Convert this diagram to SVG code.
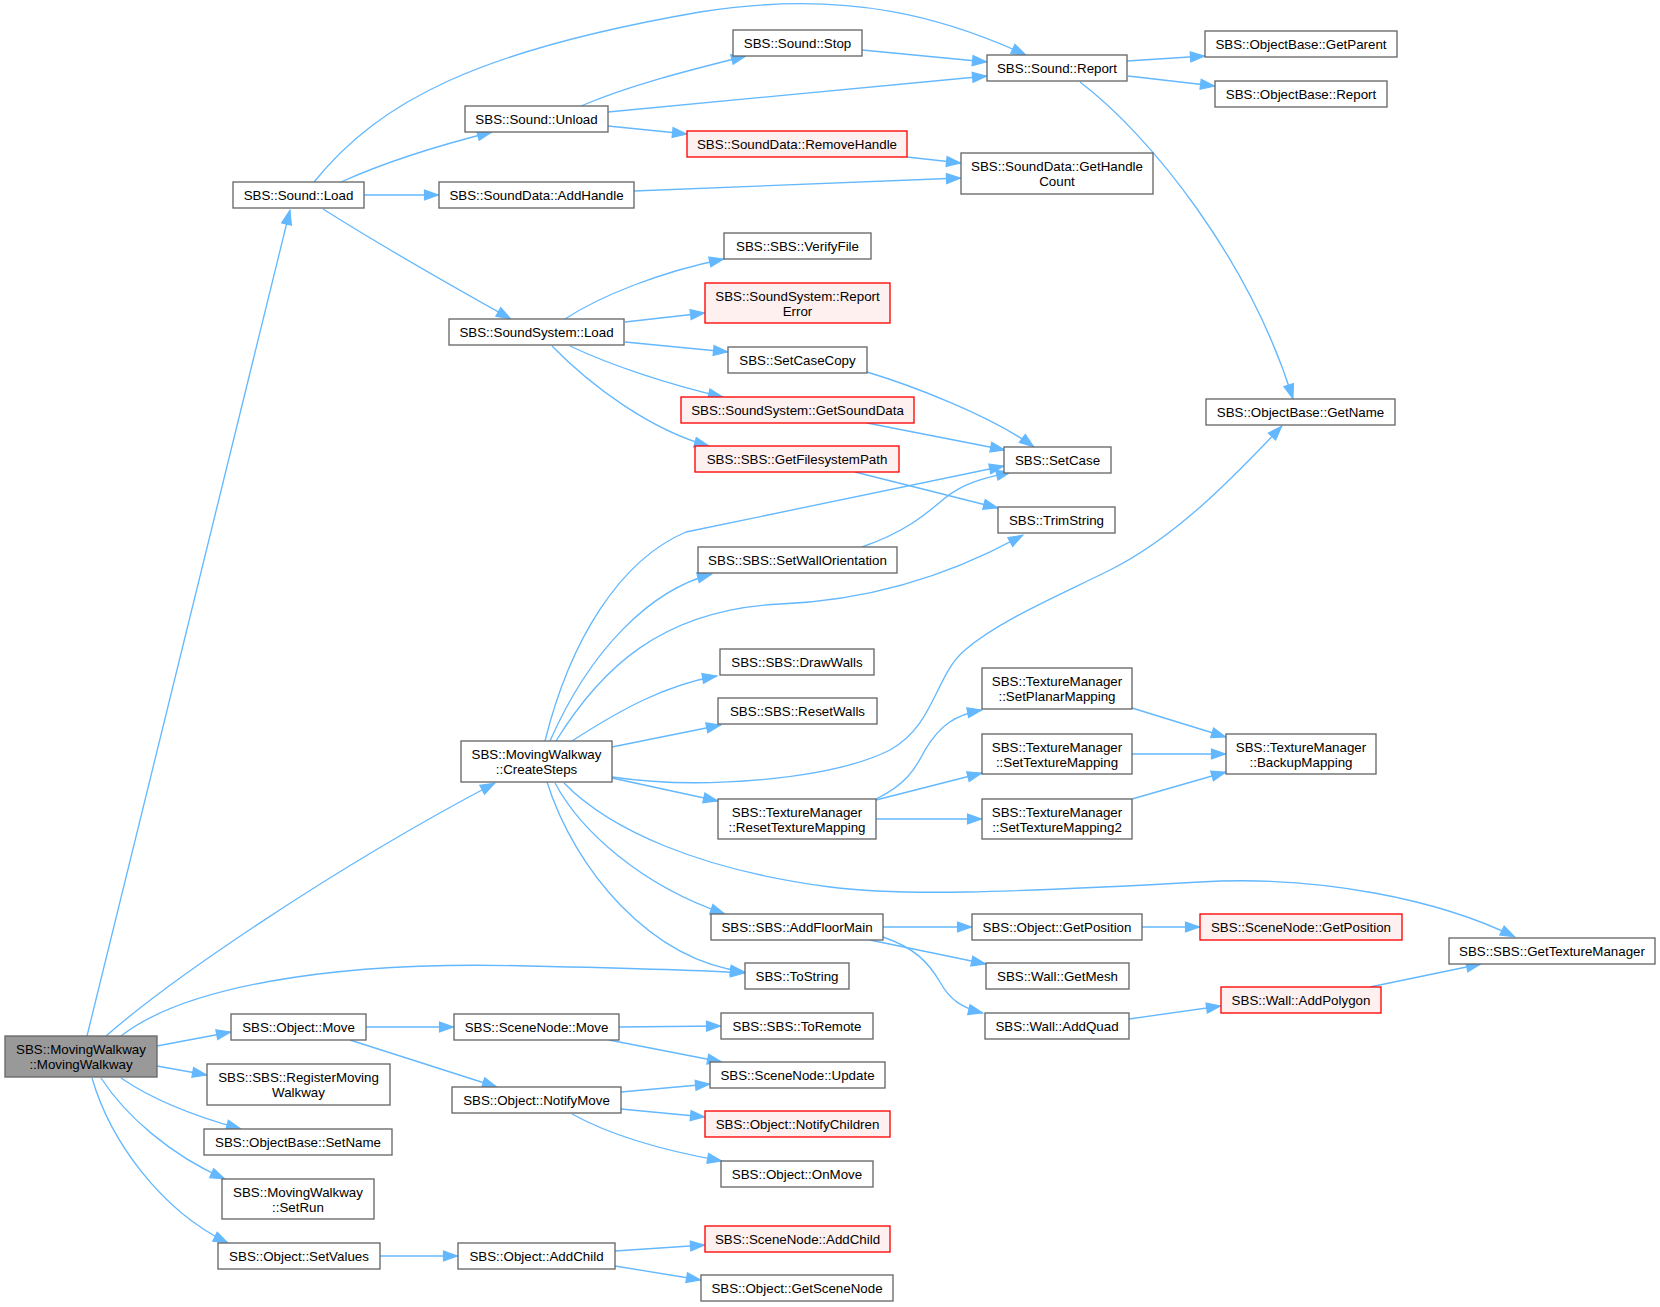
<svg xmlns="http://www.w3.org/2000/svg" width="1660" height="1307" viewBox="0 0 1660 1307">
<style>
.bg{fill:#fff}
.node rect{fill:#fff;stroke:#666;stroke-width:1.33}
.node.red rect{fill:#fff0f0;stroke:#ff0000}
.node.root rect{fill:#999;stroke:#666}
.node text{font-family:"Liberation Sans",Arial,Helvetica,sans-serif;font-size:13.33px;text-anchor:middle;fill:#000}
.edges path{fill:none;stroke:#63b8ff;stroke-width:1.33;marker-end:url(#ah)}
</style>
<defs>
<marker id="ah" markerUnits="userSpaceOnUse" markerWidth="18" markerHeight="14" refX="14.5" refY="5" orient="auto" overflow="visible">
<path d="M0,0 L14,5 L0,10 Z" fill="#63b8ff" stroke="#63b8ff" stroke-width="1.2"/>
</marker>
</defs>
<rect class="bg" x="0" y="0" width="1660" height="1307"/>
<g id="connectors" class="edges">
<path d="M87,1036 L290,210"/>
<path d="M106,1036 C170,980 330,870 495,783"/>
<path d="M121,1036 C180,990 320,960 529,966 C620,968 700,970 745,973"/>
<path d="M157,1046 L231,1032"/>
<path d="M157,1066 L207,1075"/>
<path d="M121,1078 C150,1098 190,1115 241,1129"/>
<path d="M101,1078 C125,1115 170,1155 225,1179"/>
<path d="M92,1078 C110,1140 160,1210 228,1243"/>
<path d="M314,182 C380,100 480,50 700,12 C850,-12 950,20 1026,55"/>
<path d="M341,182 C390,160 440,145 492,132"/>
<path d="M364,195 L439,195"/>
<path d="M323,209 C380,245 450,285 511,319"/>
<path d="M581,106 C630,85 690,70 746,56"/>
<path d="M608,112 L987,76"/>
<path d="M608,126 L687,134"/>
<path d="M862,50 L987,62"/>
<path d="M1127,61 L1205,56"/>
<path d="M1128,76 L1215,86"/>
<path d="M1080,82 C1150,135 1250,260 1293,399"/>
<path d="M907,157 L961,163"/>
<path d="M634,191 L961,178"/>
<path d="M565,319 C600,296 660,272 724,259"/>
<path d="M625,322 L705,313"/>
<path d="M625,342 L728,352"/>
<path d="M570,346 C610,365 670,385 723,397"/>
<path d="M552,346 C590,385 650,430 709,446"/>
<path d="M867,372 C910,385 990,415 1034,447"/>
<path d="M867,423 L1005,450"/>
<path d="M855,472 L998,508"/>
<path d="M862,547 C905,532 925,515 945,498 C965,482 985,478 1011,472"/>
<path d="M545,741 C570,640 620,560 686,532 L1004,466"/>
<path d="M550,741 C590,650 650,590 712,574"/>
<path d="M556,741 C600,670 660,610 780,604 C880,600 960,570 1023,535"/>
<path d="M572,741 C620,710 665,685 717,676"/>
<path d="M612,747 L721,725"/>
<path d="M612,777 C700,790 830,780 890,750 C935,725 935,675 965,650 C1000,620 1060,595 1110,570 C1180,535 1240,470 1282,426"/>
<path d="M612,778 L718,801"/>
<path d="M564,783 C610,830 700,870 830,887 C900,896 1000,893 1200,882 C1320,875 1440,900 1515,937"/>
<path d="M555,783 C580,830 640,885 725,914"/>
<path d="M547,782 C575,870 650,960 745,972"/>
<path d="M876,799 C905,785 915,770 925,750 C940,725 955,715 982,710"/>
<path d="M876,800 L982,773"/>
<path d="M876,819 L982,819"/>
<path d="M1132,708 L1226,737"/>
<path d="M1132,754 L1226,754"/>
<path d="M1132,799 L1226,772"/>
<path d="M883,927 L972,927"/>
<path d="M870,940 L986,964"/>
<path d="M883,937 C915,948 928,962 940,982 C950,1000 962,1008 983,1013"/>
<path d="M1142,927 L1200,927"/>
<path d="M1129,1019 L1221,1006"/>
<path d="M1370,987 L1481,964"/>
<path d="M366,1027 L454,1027"/>
<path d="M350,1040 L497,1087"/>
<path d="M619,1027 L721,1026"/>
<path d="M609,1040 L722,1062"/>
<path d="M621,1092 L710,1084"/>
<path d="M621,1109 L705,1117"/>
<path d="M572,1114 C610,1135 660,1150 722,1161"/>
<path d="M380,1256 L458,1256"/>
<path d="M615,1251 L705,1245"/>
<path d="M615,1266 L701,1280"/>
</g>
<g id="n0" class="node root"><rect x="5" y="1036" width="152" height="41"/><text x="81" y="1054">SBS::MovingWalkway</text><text x="81" y="1069">::MovingWalkway</text></g>
<g id="n1" class="node"><rect x="233" y="182" width="131" height="26"/><text x="298.5" y="199.5">SBS::Sound::Load</text></g>
<g id="n2" class="node"><rect x="465" y="106" width="143" height="26"/><text x="536.5" y="123.5">SBS::Sound::Unload</text></g>
<g id="n3" class="node"><rect x="733" y="30" width="129" height="26"/><text x="797.5" y="47.5">SBS::Sound::Stop</text></g>
<g id="n4" class="node"><rect x="987" y="55" width="140" height="26"/><text x="1057" y="72.5">SBS::Sound::Report</text></g>
<g id="n5" class="node"><rect x="1205" y="31" width="192" height="26"/><text x="1301" y="48.5">SBS::ObjectBase::GetParent</text></g>
<g id="n6" class="node"><rect x="1215" y="81" width="172" height="26"/><text x="1301" y="98.5">SBS::ObjectBase::Report</text></g>
<g id="n7" class="node red"><rect x="687" y="131" width="220" height="26"/><text x="797" y="148.5">SBS::SoundData::RemoveHandle</text></g>
<g id="n8" class="node"><rect x="961" y="153" width="192" height="41"/><text x="1057" y="171">SBS::SoundData::GetHandle</text><text x="1057" y="186">Count</text></g>
<g id="n9" class="node"><rect x="439" y="182" width="195" height="26"/><text x="536.5" y="199.5">SBS::SoundData::AddHandle</text></g>
<g id="n10" class="node"><rect x="724" y="233" width="147" height="26"/><text x="797.5" y="250.5">SBS::SBS::VerifyFile</text></g>
<g id="n11" class="node red"><rect x="705" y="283" width="185" height="40"/><text x="797.5" y="301">SBS::SoundSystem::Report</text><text x="797.5" y="316">Error</text></g>
<g id="n12" class="node"><rect x="449" y="319" width="175" height="26"/><text x="536.5" y="336.5">SBS::SoundSystem::Load</text></g>
<g id="n13" class="node"><rect x="728" y="347" width="139" height="26"/><text x="797.5" y="364.5">SBS::SetCaseCopy</text></g>
<g id="n14" class="node red"><rect x="681" y="397" width="233" height="26"/><text x="797.5" y="414.5">SBS::SoundSystem::GetSoundData</text></g>
<g id="n15" class="node red"><rect x="695" y="446" width="204" height="26"/><text x="797" y="463.5">SBS::SBS::GetFilesystemPath</text></g>
<g id="n16" class="node"><rect x="1004" y="447" width="107" height="26"/><text x="1057.5" y="464.5">SBS::SetCase</text></g>
<g id="n17" class="node"><rect x="998" y="507" width="117" height="26"/><text x="1056.5" y="524.5">SBS::TrimString</text></g>
<g id="n18" class="node"><rect x="698" y="547" width="199" height="26"/><text x="797.5" y="564.5">SBS::SBS::SetWallOrientation</text></g>
<g id="n19" class="node"><rect x="720" y="649" width="154" height="26"/><text x="797" y="666.5">SBS::SBS::DrawWalls</text></g>
<g id="n20" class="node"><rect x="718" y="698" width="159" height="26"/><text x="797.5" y="715.5">SBS::SBS::ResetWalls</text></g>
<g id="n21" class="node"><rect x="461" y="741" width="151" height="41"/><text x="536.5" y="759">SBS::MovingWalkway</text><text x="536.5" y="774">::CreateSteps</text></g>
<g id="n22" class="node"><rect x="718" y="799" width="158" height="40"/><text x="797" y="817">SBS::TextureManager</text><text x="797" y="832">::ResetTextureMapping</text></g>
<g id="n23" class="node"><rect x="982" y="668" width="150" height="41"/><text x="1057" y="686">SBS::TextureManager</text><text x="1057" y="701">::SetPlanarMapping</text></g>
<g id="n24" class="node"><rect x="982" y="734" width="150" height="40"/><text x="1057" y="752">SBS::TextureManager</text><text x="1057" y="767">::SetTextureMapping</text></g>
<g id="n25" class="node"><rect x="982" y="799" width="150" height="40"/><text x="1057" y="817">SBS::TextureManager</text><text x="1057" y="832">::SetTextureMapping2</text></g>
<g id="n26" class="node"><rect x="1226" y="734" width="150" height="40"/><text x="1301" y="752">SBS::TextureManager</text><text x="1301" y="767">::BackupMapping</text></g>
<g id="n27" class="node"><rect x="1206" y="399" width="189" height="26"/><text x="1300.5" y="416.5">SBS::ObjectBase::GetName</text></g>
<g id="n28" class="node"><rect x="711" y="914" width="172" height="26"/><text x="797" y="931.5">SBS::SBS::AddFloorMain</text></g>
<g id="n29" class="node"><rect x="745" y="963" width="104" height="26"/><text x="797" y="980.5">SBS::ToString</text></g>
<g id="n30" class="node"><rect x="721" y="1013" width="152" height="26"/><text x="797" y="1030.5">SBS::SBS::ToRemote</text></g>
<g id="n31" class="node"><rect x="710" y="1062" width="175" height="26"/><text x="797.5" y="1079.5">SBS::SceneNode::Update</text></g>
<g id="n32" class="node red"><rect x="705" y="1111" width="185" height="26"/><text x="797.5" y="1128.5">SBS::Object::NotifyChildren</text></g>
<g id="n33" class="node"><rect x="721" y="1161" width="152" height="26"/><text x="797" y="1178.5">SBS::Object::OnMove</text></g>
<g id="n34" class="node red"><rect x="705" y="1226" width="185" height="26"/><text x="797.5" y="1243.5">SBS::SceneNode::AddChild</text></g>
<g id="n35" class="node"><rect x="701" y="1275" width="192" height="26"/><text x="797" y="1292.5">SBS::Object::GetSceneNode</text></g>
<g id="n36" class="node"><rect x="231" y="1014" width="135" height="26"/><text x="298.5" y="1031.5">SBS::Object::Move</text></g>
<g id="n37" class="node"><rect x="454" y="1014" width="165" height="26"/><text x="536.5" y="1031.5">SBS::SceneNode::Move</text></g>
<g id="n38" class="node"><rect x="452" y="1087" width="169" height="26"/><text x="536.5" y="1104.5">SBS::Object::NotifyMove</text></g>
<g id="n39" class="node"><rect x="207" y="1064" width="183" height="41"/><text x="298.5" y="1082">SBS::SBS::RegisterMoving</text><text x="298.5" y="1097">Walkway</text></g>
<g id="n40" class="node"><rect x="204" y="1129" width="188" height="26"/><text x="298" y="1146.5">SBS::ObjectBase::SetName</text></g>
<g id="n41" class="node"><rect x="222" y="1179" width="152" height="40"/><text x="298" y="1197">SBS::MovingWalkway</text><text x="298" y="1212">::SetRun</text></g>
<g id="n42" class="node"><rect x="218" y="1243" width="162" height="26"/><text x="299" y="1260.5">SBS::Object::SetValues</text></g>
<g id="n43" class="node"><rect x="458" y="1243" width="157" height="26"/><text x="536.5" y="1260.5">SBS::Object::AddChild</text></g>
<g id="n44" class="node"><rect x="972" y="914" width="170" height="26"/><text x="1057" y="931.5">SBS::Object::GetPosition</text></g>
<g id="n45" class="node red"><rect x="1200" y="914" width="202" height="26"/><text x="1301" y="931.5">SBS::SceneNode::GetPosition</text></g>
<g id="n46" class="node"><rect x="986" y="963" width="143" height="26"/><text x="1057.5" y="980.5">SBS::Wall::GetMesh</text></g>
<g id="n47" class="node"><rect x="985" y="1013" width="144" height="26"/><text x="1057" y="1030.5">SBS::Wall::AddQuad</text></g>
<g id="n48" class="node red"><rect x="1221" y="987" width="160" height="26"/><text x="1301" y="1004.5">SBS::Wall::AddPolygon</text></g>
<g id="n49" class="node"><rect x="1449" y="938" width="206" height="26"/><text x="1552" y="955.5">SBS::SBS::GetTextureManager</text></g>
</svg>
